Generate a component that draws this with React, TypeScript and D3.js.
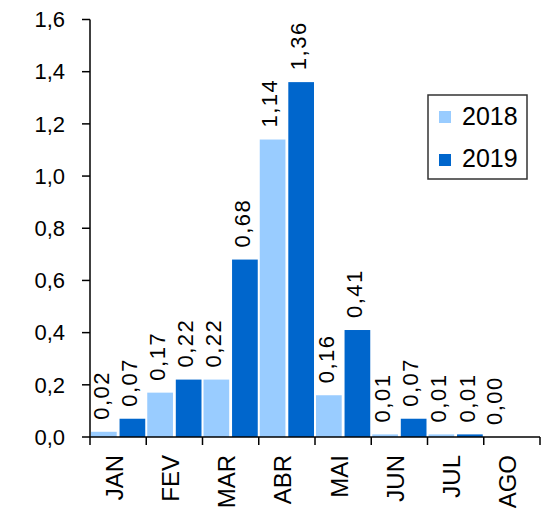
import * as d3 from 'd3';
import React from 'react';

const months = ['JAN', 'FEV', 'MAR', 'ABR', 'MAI', 'JUN', 'JUL', 'AGO'];
const series = ['2018', '2019'];
const values2018 = [0.02, 0.17, 0.22, 1.14, 0.16, 0.01, 0.01, 0.0];
const values2019 = [0.07, 0.22, 0.68, 1.36, 0.41, 0.07, 0.01, null];
const yTicks = [0, 0.2, 0.4, 0.6, 0.8, 1.0, 1.2, 1.4, 1.6];
const colours = ['#99CCFF', '#0066CC'];

const font = '"Liberation Sans", Arial, sans-serif';
const fmt = (v: number, digits: number) => v.toFixed(digits).replace('.', ',');

export default function App() {
    const left = 90
    const right = 540
    const top = 19.5
    const bottom = 437

    const x = d3.scaleBand().domain(months).range([left, right]).padding(0)
    const inner = d3.scaleBand().domain(series).range([1, x.bandwidth() - 1]).paddingInner(0.1)
    const y = d3.scaleLinear().domain([0, 1.6]).range([bottom, top])

    const data = months.map((m, i) => ({ label: m, vals: [values2018[i], values2019[i]] }))

    return (
        <svg width={543} height={512} style={{ position: 'absolute', left: 0, top: 0, fontFamily: font }}>
            <rect x={0} y={0} width={543} height={512} fill="#fff" />

            {/* bars */}
            {data.map(d => d.vals.map((v, j) => v === null ? null : (
                <rect key={d.label + j}
                    x={x(d.label)! + inner(series[j])!}
                    width={inner.bandwidth()}
                    y={y(v)}
                    height={bottom - y(v)}
                    fill={colours[j]} />
            )))}

            {/* value labels */}
            {data.map(d => d.vals.map((v, j) => {
                if (v === null) return null
                const cx = x(d.label)! + inner(series[j])! + inner.bandwidth() / 2 - 3
                const cy = y(v) - 12
                return (
                    <text key={'l' + d.label + j}
                        transform={`translate(${cx},${cy}) rotate(-90)`}
                        dy="0.35em" fontSize={22} letterSpacing={1.5} fill="#000">
                        {fmt(v, 2)}
                    </text>
                )
            }))}

            {/* y axis */}
            <line x1={left} x2={left} y1={top} y2={bottom} stroke="#000" strokeWidth={1.5} />
            {yTicks.map(t => (
                <g key={t}>
                    <line x1={left - 8} x2={left} y1={y(t)} y2={y(t)} stroke="#000" strokeWidth={1.5} />
                    <text x={65} y={y(t)} dy="0.35em" textAnchor="end" fontSize={22} fill="#000">{fmt(t, 1)}</text>
                </g>
            ))}

            {/* x axis */}
            <line x1={left} x2={right} y1={bottom} y2={bottom} stroke="#000" strokeWidth={1.5} />
            {[...months.map(m => x(m)!), right].map((p, i) => (
                <line key={'t' + i} x1={p} x2={p} y1={bottom} y2={bottom + 8} stroke="#000" strokeWidth={1.5} />
            ))}
            {months.map(m => (
                <text key={'c' + m}
                    transform={`translate(${x(m)! + x.bandwidth() / 2 - 4},${bottom + 18}) rotate(-90)`}
                    dy="0.35em" textAnchor="end" fontSize={24} fill="#000">{m}</text>
            ))}

            {/* legend */}
            <rect x={428} y={95} width={99} height={84} fill="#fff" stroke="#333" strokeWidth={1.5} />
            {series.map((s, j) => (
                <g key={s}>
                    <rect x={439} y={111 + j * 43} width={12} height={12} fill={colours[j]} />
                    <text x={462} y={125 + j * 42} fontSize={25} fill="#000">{s}</text>
                </g>
            ))}
        </svg>
    )
}
